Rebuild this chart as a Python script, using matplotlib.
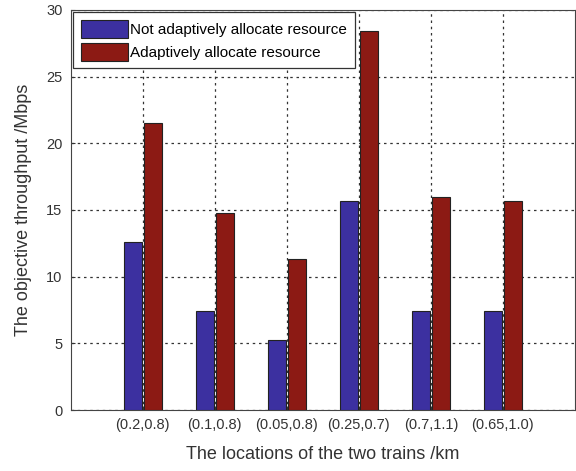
import numpy as np
import matplotlib
matplotlib.use('Agg')
import matplotlib.pyplot as plt

plt.rcParams['font.family'] = ['Liberation Sans', 'DejaVu Sans']

locations = ['(0.2,0.8)', '(0.1,0.8)', '(0.05,0.8)', '(0.25,0.7)', '(0.7,1.1)', '(0.65,1.0)']
not_adaptive = [12.6, 7.4, 5.25, 15.7, 7.4, 7.4]
adaptive = [21.5, 14.8, 11.3, 28.4, 16.0, 15.7]

x = np.arange(1, len(locations) + 1)
w = 0.25

fig = plt.figure(figsize=(5.76, 4.71), dpi=100)
ax = fig.add_axes([0.123, 0.1295, 0.875, 0.8495])

ax.bar(x - 0.135, not_adaptive, w, color='#3c30a0', edgecolor='#222222', linewidth=0.8,
       label='Not adaptively allocate resource', zorder=3)
ax.bar(x + 0.135, adaptive, w, color='#8c1a14', edgecolor='#222222', linewidth=0.8,
       label='Adaptively allocate resource', zorder=3)

ax.set_xlim(0, 7)
ax.set_ylim(0, 30)
ax.set_xticks(x)
ax.set_xticklabels(locations)
ax.set_yticks(range(0, 31, 5))
ax.tick_params(direction='in', labelsize=10.5, colors='#333333', length=3, pad=6)
ax.grid(True, linestyle=(0, (2, 3)), color='#333333', linewidth=0.9, zorder=0)

for s in ax.spines.values():
    s.set_color('#444444')

ax.set_xlabel('The locations of the two trains /km', fontsize=13, color='#333333', labelpad=10)
ax.set_ylabel('The objective throughput /Mbps', fontsize=13, color='#333333', labelpad=10)

leg = ax.legend(loc='upper left', fontsize=11, fancybox=False, framealpha=1,
                edgecolor='#333333', borderaxespad=0.15, handlelength=3.1,
                handleheight=1.45, handletextpad=0.15, labelspacing=0.3, borderpad=0.5)
leg.get_frame().set_linewidth(0.9)

fig.savefig('out.png', dpi=100)
